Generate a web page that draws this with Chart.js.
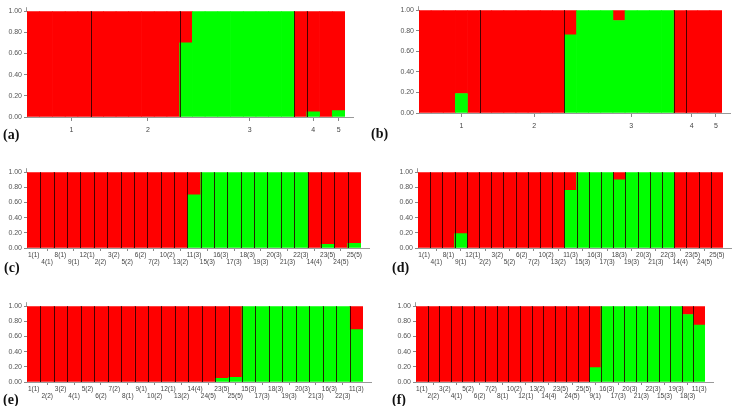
<!DOCTYPE html>
<html><head><meta charset="utf-8">
<script src="https://cdn.jsdelivr.net/npm/chart.js@4.4.1/dist/chart.umd.min.js"></script>
<style>
html,body{margin:0;padding:0;background:#fff;width:735px;height:406px;overflow:hidden;position:relative}
canvas{position:absolute}
.lab{position:absolute;font-family:"Liberation Serif","DejaVu Serif",serif;font-weight:bold;font-size:14px;line-height:14px;color:#111}
</style></head><body>
<canvas id="ca"></canvas><canvas id="cb"></canvas>
<canvas id="cc"></canvas><canvas id="cd"></canvas>
<canvas id="ce"></canvas><canvas id="cf"></canvas>
<div class="lab" style="left:3px;top:128px">(a)</div>
<div class="lab" style="left:371px;top:127px">(b)</div>
<div class="lab" style="left:4px;top:261px">(c)</div>
<div class="lab" style="left:392px;top:261px">(d)</div>
<div class="lab" style="left:3px;top:393px">(e)</div>
<div class="lab" style="left:392px;top:393px">(f)</div>
<script>
// ---------- data ----------
const popLabels = ['1','2','3','4','5'];
const popSizes = [5, 7, 9, 1, 3];
const yTickValues = [0, 0.2, 0.4, 0.6, 0.8, 1.0];

const idsGrouped = ['1(1)','4(1)','8(1)','9(1)','12(1)','2(2)','3(2)','5(2)','6(2)','7(2)','10(2)','13(2)',
  '11(3)','15(3)','16(3)','17(3)','18(3)','19(3)','20(3)','21(3)','22(3)','14(4)','23(5)','24(5)','25(5)'];
const idsE = ['1(1)','2(2)','3(2)','4(1)','5(2)','6(2)','7(2)','8(1)','9(1)','10(2)','12(1)','13(2)','14(4)',
  '24(5)','23(5)','25(5)','15(3)','17(3)','18(3)','19(3)','20(3)','21(3)','16(3)','22(3)','11(3)'];
const idsF = ['1(1)','2(2)','3(2)','4(1)','5(2)','6(2)','7(2)','8(1)','10(2)','12(1)','13(2)','14(4)','23(5)',
  '24(5)','25(5)','9(1)','16(3)','17(3)','20(3)','21(3)','22(3)','15(3)','19(3)','18(3)','11(3)'];

// membership coefficients (green cluster / red cluster)
const greenAC = [0,0,0,0,0, 0,0,0,0,0,0,0, 0.70,1,1,1,1,1,1,1,1, 0, 0.05,0,0.06];
const redAC   = [1,1,1,1,1, 1,1,1,1,1,1,1, 0.30,0,0,0,0,0,0,0,0, 1, 0.95,1,0.94];
const greenBD = [0,0,0,0.19,0, 0,0,0,0,0,0,0, 0.76,1,1,1,0.90,1,1,1,1, 0, 0,0,0];
const redBD   = [1,1,1,0.81,1, 1,1,1,1,1,1,1, 0.24,0,0,0,0.10,0,0,0,0, 1, 1,1,1];
const greenE  = [0,0,0,0,0,0,0,0,0,0,0,0,0, 0,0.05,0.06, 1,1,1,1,1,1,1,1, 0.69];
const redE    = [1,1,1,1,1,1,1,1,1,1,1,1,1, 1,0.95,0.94, 0,0,0,0,0,0,0,0, 0.31];
const greenF  = [0,0,0,0,0,0,0,0,0,0,0,0,0,0,0, 0.19, 1,1,1,1,1,1,1, 0.89, 0.75];
const redF    = [1,1,1,1,1,1,1,1,1,1,1,1,1,1,1, 0.81, 0,0,0,0,0,0,0, 0.11, 0.25];

// ---------- style / layout ----------
Chart.defaults.font.family = '"Liberation Sans", Arial, sans-serif';
const YW = 27, PADT = 5, PADR = 12;
const RED = '#FF0000', GREEN = '#00FF00';
const popLabelShift = 0.85;

const popBounds = []; const popTickIdx = {};
{ let s = 0; popSizes.forEach((n, i) => { popTickIdx[Math.round(s + (n - 1) / 2 + popLabelShift)] = popLabels[i]; s += n; if (i < popSizes.length - 1) popBounds.push(s); }); }
const allBounds = []; for (let i = 1; i < 25; i++) allBounds.push(i);

function setupCanvas(id, g, xh) {
  const el = document.getElementById(id);
  const left = g.left - YW, top = g.top - PADT;
  el.width = g.right - left + PADR;
  el.height = g.bottom - top + xh;
  el.style.left = left + 'px'; el.style.top = top + 'px';
  el.style.width = el.width + 'px'; el.style.height = el.height + 'px';
  return el;
}

function sepPlugin(bounds) {
  return { id: 'sep', afterDatasetsDraw(chart) {
    const { ctx, chartArea: a, scales: { x } } = chart;
    ctx.save(); ctx.strokeStyle = 'rgba(40,0,0,0.85)'; ctx.lineWidth = 1;
    bounds.forEach(b => {
      const px = Math.round((x.getPixelForValue(b - 1) + x.getPixelForValue(b)) / 2) + 0.5;
      ctx.beginPath(); ctx.moveTo(px, a.top); ctx.lineTo(px, a.bottom); ctx.stroke();
    });
    ctx.restore();
  } };
}
const extPlugin = { id: 'ext', afterDraw(chart) {
  const { ctx, chartArea: a } = chart;
  ctx.save(); ctx.strokeStyle = '#999'; ctx.lineWidth = 1;
  ctx.beginPath(); ctx.moveTo(a.right, a.bottom + 0.5); ctx.lineTo(a.right + 9, a.bottom + 0.5); ctx.stroke();
  ctx.beginPath(); ctx.moveTo(a.left - 0.5, a.top - 4); ctx.lineTo(a.left - 0.5, a.top); ctx.stroke();
  ctx.restore();
} };

const yScale = {
  stacked: true, min: 0, max: 1,
  afterBuildTicks: s => { s.ticks = yTickValues.map(v => ({ value: v })); },
  ticks: { callback: v => Number(v).toFixed(2), font: { size: 7 }, color: '#555', padding: 2 },
  grid: { drawOnChartArea: false, tickLength: 3, tickColor: '#888' },
  border: { color: '#999' },
  afterFit: s => { s.width = YW; }
};

function datasets(green, red) {
  const col = c0 => (c => (c.raw ? c0 : 'rgba(0,0,0,0)'));
  return [
    { data: green, backgroundColor: col(GREEN), borderWidth: 0, barPercentage: 1, categoryPercentage: 1 },
    { data: red, backgroundColor: col(RED), borderWidth: 0, barPercentage: 1, categoryPercentage: 1 }
  ];
}

function baseOptions(xScale) {
  return {
    responsive: false, animation: false, devicePixelRatio: 1,
    layout: { padding: { top: PADT, right: PADR, left: 0, bottom: 0 } },
    plugins: { legend: { display: false }, tooltip: { enabled: false } },
    scales: { x: xScale, y: yScale }
  };
}

function popChart(id, g, green, red) {
  const XH = 20;
  const el = setupCanvas(id, g, XH);
  const xScale = { stacked: true,
    ticks: { autoSkip: false, maxRotation: 0, minRotation: 0, font: { size: 7 }, color: '#444', padding: 5,
      callback: (v, i) => popTickIdx[i] || '' },
    grid: { offset: false, drawOnChartArea: false, tickLength: 4,
      tickColor: c => (popTickIdx[c.index] ? '#888' : 'rgba(0,0,0,0)') },
    border: { color: '#999' },
    afterFit: s => { s.height = XH; } };
  new Chart(el, {
    type: 'bar',
    data: { labels: idsGrouped, datasets: datasets(green, red) },
    options: baseOptions(xScale),
    plugins: [sepPlugin(popBounds), extPlugin]
  });
}

function indChart(id, g, ids, green, red) {
  const XH = 18;
  const el = setupCanvas(id, g, XH);
  const xScale = { stacked: true,
    ticks: { autoSkip: false, maxRotation: 0, minRotation: 0, font: { size: 6.5, lineHeight: 1 }, color: '#444', padding: 1,
      callback: (v, i) => i % 2 === 0 ? [ids[i], ''] : ['', ids[i]] },
    grid: { offset: false, drawOnChartArea: false, tickLength: 3,
      tickColor: c => (c.index % 2 === 1 ? '#888' : 'rgba(0,0,0,0)') },
    border: { color: '#999' },
    afterFit: s => { s.height = XH; } };
  new Chart(el, {
    type: 'bar',
    data: { labels: ids, datasets: datasets(green, red) },
    options: baseOptions(xScale),
    plugins: [sepPlugin(allBounds), extPlugin]
  });
}

popChart('ca', { left: 27, right: 345, top: 10, bottom: 117 }, greenAC, redAC);
popChart('cb', { left: 419, right: 722, top: 9, bottom: 113 }, greenBD, redBD);
indChart('cc', { left: 27, right: 361, top: 171, bottom: 248 }, idsGrouped, greenAC, redAC);
indChart('cd', { left: 418, right: 723, top: 171, bottom: 248 }, idsGrouped, greenBD, redBD);
indChart('ce', { left: 27, right: 363, top: 305, bottom: 382 }, idsE, greenE, redE);
indChart('cf', { left: 416, right: 705, top: 305, bottom: 382 }, idsF, greenF, redF);
</script>
</body></html>
